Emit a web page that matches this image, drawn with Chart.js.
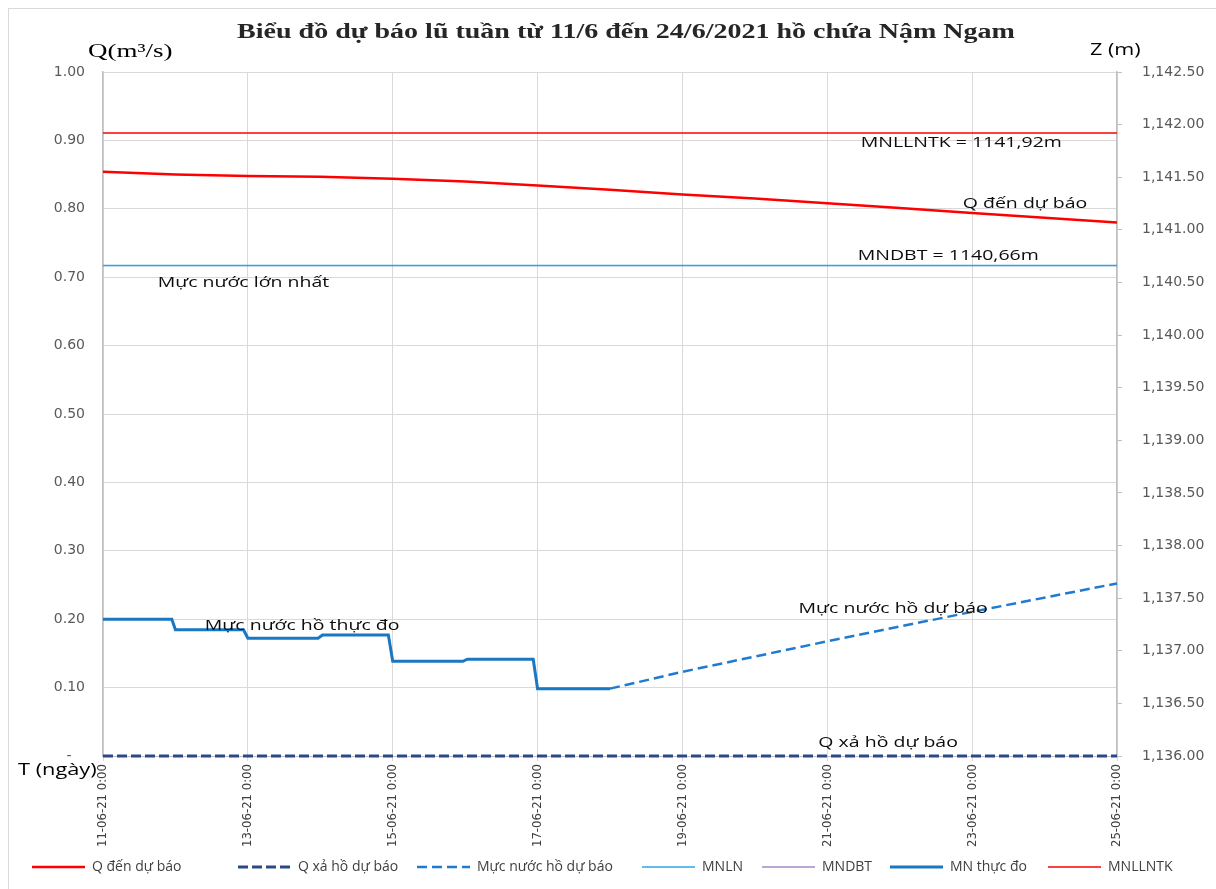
<!DOCTYPE html>
<html>
<head>
<meta charset="utf-8">
<script src="https://cdn.jsdelivr.net/npm/chart.js@4.4.1/dist/chart.umd.min.js"></script>
<style>
  html, body { margin: 0; padding: 0; background: #fff; }
  #wrap { position: relative; width: 1216px; height: 889px; }
</style>
</head>
<body>
<div id="wrap"><canvas id="chart"></canvas></div>
<script>
var chartTitle = 'Biểu đồ dự báo lũ tuần từ 11/6 đến 24/6/2021 hồ chứa Nậm Ngam';

// truc hoanh: ngay tinh tu 11-06-21 0:00
var xTickLabels = ['11-06-21 0:00', '13-06-21 0:00', '15-06-21 0:00', '17-06-21 0:00',
  '19-06-21 0:00', '21-06-21 0:00', '23-06-21 0:00', '25-06-21 0:00'];

// Q den du bao (m3/s)
var qDenDays = [0, 1, 2, 3, 4, 5, 6, 7, 8, 9, 10, 11, 12, 13, 14];
var qDenValues = [0.854, 0.850, 0.848, 0.847, 0.844, 0.840, 0.834, 0.828, 0.821, 0.815, 0.808, 0.801, 0.794, 0.787, 0.780];

// Q xa ho du bao (m3/s)
var qXaDays = [0, 14];
var qXaValues = [0, 0];

// Muc nuoc ho thuc do (m)
var mnThucDoDays = [0, 0.95, 1.0, 1.94, 2.0, 2.97, 3.03, 3.94, 4.0, 4.97, 5.03, 5.94, 6.0, 7.0];
var mnThucDoValues = [1137.30, 1137.30, 1137.20, 1137.20, 1137.12, 1137.12, 1137.15, 1137.15,
  1136.90, 1136.90, 1136.92, 1136.92, 1136.64, 1136.64];

// Muc nuoc ho du bao (m)
var mnDuBaoDays = [7, 8, 10, 12, 14];
var mnDuBaoValues = [1136.64, 1136.80, 1137.09, 1137.37, 1137.64];

// cac muc nuoc dac trung (m)
var levelDays = [0, 14];
var mnlnValues = [1140.66, 1140.66];
var mndbtValues = [1140.66, 1140.66];
var mnllntkValues = [1141.92, 1141.92];

// nhan ghi chu trong bieu do: [text, ngay, gia tri truc Q]
var noteLabels = [
  ['MNLLNTK = 1141,92m', 11.85, 0.896],
  ['Q đến dự báo', 12.73, 0.808],
  ['MNDBT = 1140,66m', 11.67, 0.732],
  ['Mực nước lớn nhất', 1.94, 0.692],
  ['Mực nước hồ thực đo', 2.75, 0.190],
  ['Mực nước hồ dự báo', 10.91, 0.215],
  ['Q xả hồ dự báo', 10.84, 0.020]
];

// vi tri bat dau cua tung muc chu giai
var legendX = [32, 238, 417, 642, 762, 890, 1048];

function toPoints(days, values) {
  return days.map(function (d, i) { return { x: d, y: values[i] }; });
}

// chu bi gian ngang giong anh goc
function wideText(ctx, text, x, y, sx) {
  ctx.save();
  ctx.translate(x, y);
  ctx.scale(sx, 1);
  ctx.fillText(text, 0, 0);
  ctx.restore();
}

var textPlugin = {
  id: 'textPlugin',
  beforeDraw: function (chart) {
    var ctx = chart.ctx;
    ctx.save();
    ctx.strokeStyle = '#d9d9d9';
    ctx.lineWidth = 1;
    ctx.strokeRect(8.5, 8.5, 1400, 1000);
    ctx.restore();
  },
  afterDraw: function (chart) {
    var ctx = chart.ctx;
    var xs = chart.scales.x;
    var ys = chart.scales.yQ;
    ctx.save();
    ctx.textBaseline = 'middle';

    // Title
    ctx.fillStyle = '#262626';
    ctx.textAlign = 'center';
    ctx.font = 'bold 20px "Liberation Serif", serif';
    wideText(ctx, chartTitle, 626, 33, 1.4);

    // Axis titles
    ctx.fillStyle = '#000';
    ctx.textAlign = 'left';
    ctx.font = '19px "Liberation Serif", serif';
    wideText(ctx, 'Q(m³/s)', 88, 52, 1.42);
    ctx.font = '16px "Open Sans", sans-serif';
    wideText(ctx, 'Z (m)', 1090, 50, 1.35);
    wideText(ctx, 'T (ngày)', 18, 770, 1.36);

    // notes
    ctx.textAlign = 'center';
    ctx.fillStyle = '#0d0d0d';
    ctx.font = '15px "Open Sans", sans-serif';
    noteLabels.forEach(function (n) {
      wideText(ctx, n[0], xs.getPixelForValue(n[1]), ys.getPixelForValue(n[2]), 1.3);
    });

    // legend
    var lineLen = 53, gapText = 7, ly = 867;
    ctx.font = '14px "Open Sans", sans-serif';
    ctx.textAlign = 'left';
    chart.data.datasets.forEach(function (ds, i) {
      var lx = legendX[i];
      ctx.save();
      ctx.strokeStyle = ds.borderColor;
      ctx.lineWidth = ds.borderWidth;
      ctx.setLineDash(ds.borderDash || []);
      ctx.beginPath();
      ctx.moveTo(lx, ly);
      ctx.lineTo(lx + lineLen, ly);
      ctx.stroke();
      ctx.restore();
      ctx.fillStyle = '#404040';
      ctx.fillText(ds.label, lx + lineLen + gapText, ly);
    });
    ctx.restore();
  }
};

var lineBase = { pointRadius: 0, pointHoverRadius: 0, fill: false, tension: 0, clip: 6 };

function makeSet(label, pts, axis, color, width, dash) {
  return Object.assign({}, lineBase, {
    label: label,
    data: pts,
    yAxisID: axis,
    borderColor: color,
    borderWidth: width,
    borderDash: dash || []
  });
}

new Chart(document.getElementById('chart'), {
  type: 'line',
  data: {
    datasets: [
      makeSet('Q đến dự báo', toPoints(qDenDays, qDenValues), 'yQ', '#ff0000', 2.5),
      makeSet('Q xả hồ dự báo', toPoints(qXaDays, qXaValues), 'yQ', '#2a4a85', 3, [10, 4]),
      makeSet('Mực nước hồ dự báo', toPoints(mnDuBaoDays, mnDuBaoValues), 'yZ', '#1f7bd0', 2.5, [10, 5]),
      makeSet('MNLN', toPoints(levelDays, mnlnValues), 'yZ', '#2fa4e7', 1.5),
      makeSet('MNDBT', toPoints(levelDays, mndbtValues), 'yZ', '#7a4fa3', 1),
      makeSet('MN thực đo', toPoints(mnThucDoDays, mnThucDoValues), 'yZ', '#1a78c2', 3),
      makeSet('MNLLNTK', toPoints(levelDays, mnllntkValues), 'yZ', '#ff0000', 1.5)
    ]
  },
  options: {
    responsive: true,
    maintainAspectRatio: false,
    animation: false,
    events: [],
    layout: { padding: { left: 8, right: 8, top: 72, bottom: 8 } },
    plugins: {
      legend: { display: false },
      title: { display: false },
      tooltip: { enabled: false }
    },
    scales: {
      x: {
        type: 'linear',
        min: 0,
        max: 14,
        afterFit: function (s) { s.height = 125; },
        afterBuildTicks: function (s) {
          s.ticks = xTickLabels.map(function (l, i) { return { value: i * 2 }; });
        },
        ticks: {
          minRotation: 90,
          maxRotation: 90,
          padding: 3,
          color: '#404040',
          font: { family: '"Liberation Sans Narrow", "DejaVu Sans Condensed", sans-serif', size: 13 },
          callback: function (v) { return xTickLabels[Math.round(v / 2)]; }
        },
        grid: { color: '#d9d9d9', tickLength: 5 },
        border: { color: '#bfbfbf', width: 1 }
      },
      yQ: {
        position: 'left',
        min: 0,
        max: 1,
        afterFit: function (s) { s.width = 95; },
        ticks: {
          stepSize: 0.1,
          padding: 18,
          color: '#595959',
          font: { family: '"DejaVu Sans", sans-serif', size: 14 },
          callback: function (v) { return Math.abs(v) < 1e-9 ? '-   ' : v.toFixed(2); }
        },
        grid: { color: '#d9d9d9', drawTicks: false },
        border: { color: '#bfbfbf', width: 1.5 }
      },
      yZ: {
        position: 'right',
        min: 1136,
        max: 1142.5,
        afterFit: function (s) { s.width = 91; },
        ticks: {
          stepSize: 0.5,
          padding: 20,
          color: '#595959',
          font: { family: '"DejaVu Sans", sans-serif', size: 14 },
          callback: function (v) {
            return v.toLocaleString('en-US', { minimumFractionDigits: 2, maximumFractionDigits: 2 });
          }
        },
        grid: { drawOnChartArea: false, color: '#bfbfbf', tickLength: 5 },
        border: { color: '#bfbfbf', width: 1.5 }
      }
    }
  },
  plugins: [textPlugin]
});
</script>
</body>
</html>
